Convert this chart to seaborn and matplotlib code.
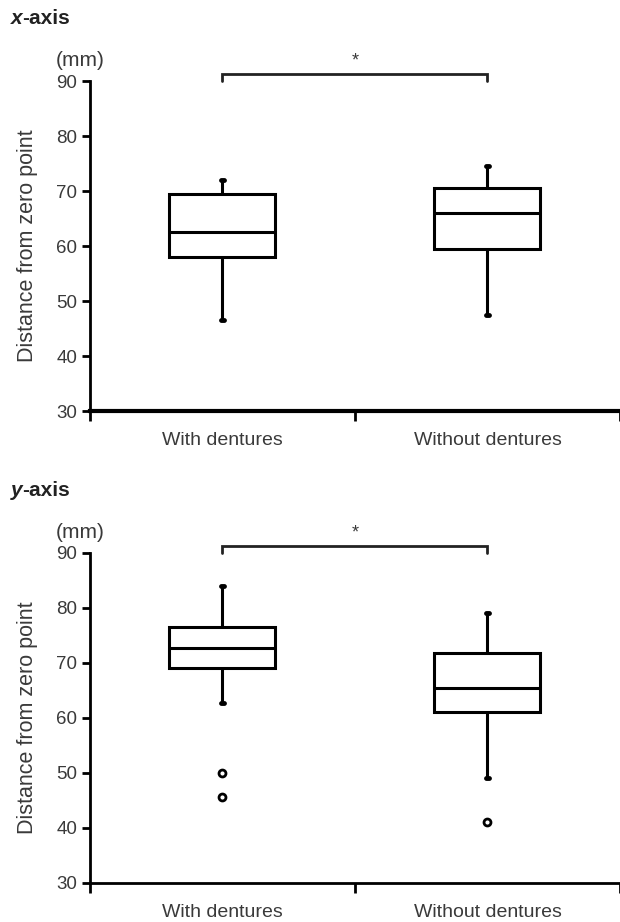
import pandas as pd
import matplotlib.pyplot as plt
import seaborn as sns

sns.set_theme(style='white')
plt.rcParams['font.family'] = ['Liberation Sans', 'DejaVu Sans']

groups = ['With dentures', 'Without dentures']

# values: lowest whisker end .. top whisker end, plus outliers
x_with = [46.5, 58.0, 62.5, 69.5, 72.0]
x_without = [47.5, 59.5, 66.0, 70.5, 74.5]
y_with = [45.7, 50.0, 62.7, 69.0, 69.0, 69.0, 72.7, 76.5, 76.5, 76.5, 84.0, 84.0, 84.0]
y_without = [41.0, 49.0, 61.0, 61.0, 65.5, 71.8, 71.8, 79.0, 79.0]

panels = [('x', x_with, x_without, 0.554), ('y', y_with, y_without, 0.0423)]
yticks = [30, 40, 50, 60, 70, 80, 90]

fig = plt.figure(figsize=(6.2, 9.22), dpi=100)
grey = '#3a3a3a'

for letter, a, b, bottom in panels:
    df = pd.DataFrame({
        'group': [groups[0]] * len(a) + [groups[1]] * len(b),
        'dist': a + b,
    })
    ax = fig.add_axes([0.145, bottom, 0.855, 0.358])
    sns.boxplot(data=df, x='group', y='dist', order=groups, ax=ax, width=0.4,
                color='white', linecolor='black', linewidth=2.2,
                whis=1.5, capwidths=0.012,
                flierprops=dict(marker='o', markersize=5, markerfacecolor='white',
                                markeredgecolor='black', markeredgewidth=2),
                capprops=dict(linewidth=3.5),
                medianprops=dict(linewidth=2.2, color='black'))
    ax.set_xlim(-0.5, 1.5)
    ax.set_ylim(30, 90)
    ax.set_yticks(yticks)
    ax.set_xlabel('')
    ax.set_ylabel('Distance from zero point', fontsize=15.5, color=grey, labelpad=13)
    ax.set_xticks([-0.5, 0.5, 1.5])
    ax.set_xticklabels([])
    ax.set_xticks([0, 1], minor=True)
    ax.set_xticklabels(groups, minor=True, fontsize=14, color=grey)
    ax.tick_params(axis='x', which='major', direction='out', length=7, width=2,
                   color='black', bottom=True)
    ax.tick_params(axis='x', which='minor', length=0, pad=15)
    ax.tick_params(axis='y', direction='out', length=6, width=2, color='black',
                   left=True, labelsize=13.5, labelcolor=grey, pad=3)
    for s in ['top', 'right']:
        ax.spines[s].set_visible(False)
    ax.spines['left'].set_linewidth(2)
    ax.spines['left'].set_color('black')
    ax.spines['bottom'].set_linewidth(3 if letter == 'x' else 2)
    ax.spines['bottom'].set_color('black')

    # significance bracket
    ax.plot([0, 0, 1, 1], [90.0, 91.3, 91.3, 90.0], color='#222222', lw=2,
            clip_on=False, solid_joinstyle='miter')
    ax.text(0.5, 92.1, '*', ha='center', va='bottom', fontsize=13, color=grey)
    ax.text(-0.538, 92.0, '(mm)', ha='center', va='bottom', fontsize=15,
            color=grey, clip_on=False)

    # panel title: italic letter + "-axis"
    t1 = fig.text(0.017, bottom + 0.358 + 0.0615, letter, fontsize=15,
                  fontweight='bold', fontstyle='italic', color='#222222', va='baseline')
    ax.annotate('-axis', xy=(1, 0), xycoords=t1, fontsize=15, fontweight='bold',
                color='#222222', va='bottom')

fig.savefig('out.png', dpi=100, facecolor='white')
